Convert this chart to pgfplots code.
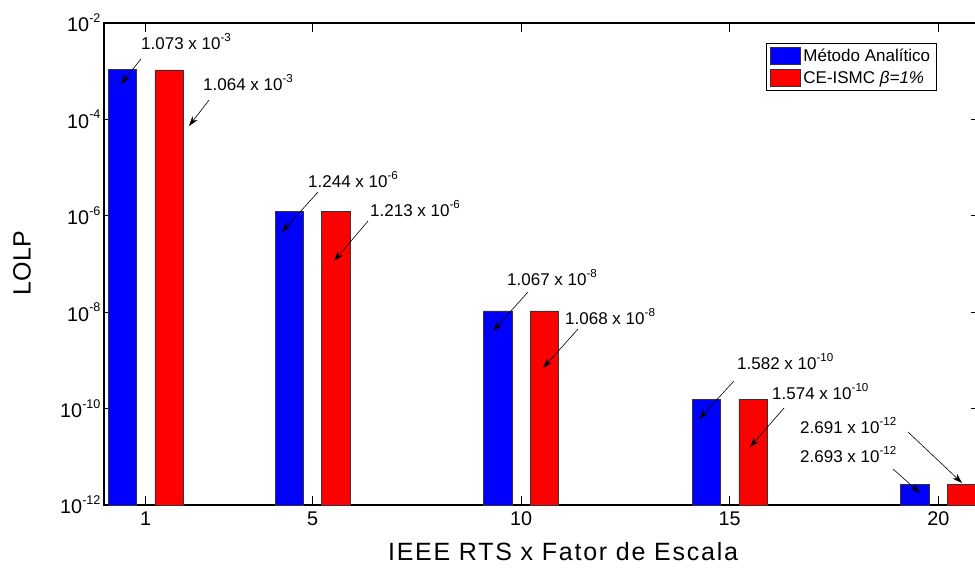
\documentclass[border=0pt]{standalone}
\usepackage{pgfplots}
\pgfplotsset{compat=1.18}
\usepackage{fontspec}
\setmainfont{Liberation Sans}
\usetikzlibrary{arrows.meta}
\newcommand{\asup}[1]{\raisebox{7.6pt}{\fontsize{11.6}{12}\selectfont #1}}
\newcommand{\tsup}[1]{\raisebox{9.3pt}{\fontsize{12.6}{13}\selectfont #1}}
\begin{document}
\begin{tikzpicture}
\begin{axis}[
  at={(104pt,69pt)}, anchor=south west,
  scale only axis, width=876pt, height=482pt,
  xmin=0, xmax=21,
  ymode=log, ymin=1e-12, ymax=1e-2,
  log origin y=infty,
  xtick={1,5,10,15,20},
  xticklabels={1,5,10,15,20},
  ytick={1e-12,1e-10,1e-8,1e-6,1e-4,1e-2},
  yticklabels={10\tsup{-12},10\tsup{-10},10\tsup{-8},10\tsup{-6},10\tsup{-4},10\tsup{-2}},
  yminorticks=false, xminorticks=false,
  tick align=inside,
  major tick length=9pt,
  axis line style={line width=1.2pt},
  every tick/.style={black, line width=0.8pt},
  ticklabel style={font=\fontsize{19.8}{21}\selectfont},
  xticklabel style={yshift=-3pt},
  xlabel={\addfontfeature{LetterSpace=7}IEEE RTS x Fator de Escala},
  ylabel={LOLP},
  label style={font=\fontsize{25}{27}\selectfont},
  xlabel style={at={(rel axis cs:0.524,-0.0975)}, anchor=center},
  ylabel style={at={(rel axis cs:-0.0936,0.502)}, anchor=center},
  legend style={at={(rel axis cs:0.7557,0.9585)}, anchor=north west,
    font=\fontsize{17}{19}\selectfont, draw=black, line width=0.8pt,
    inner xsep=3.5pt, inner ysep=3.5pt, row sep=5pt, cells={anchor=west},
    nodes={inner xsep=3pt, inner ysep=1pt}},
  legend image code/.code={\draw[#1, line width=0.5pt] (0pt,-8.5pt) rectangle (30pt,8.5pt);},
]
\addplot[ybar, bar width=0.68, bar shift=-0.56, fill=blue, draw=black!80, line width=0.6pt]
  coordinates {(1,1.073e-3)(5,1.244e-6)(10,1.067e-8)(15,1.582e-10)(20,2.693e-12)};
\addlegendentry{Método Analítico}
\addplot[ybar, bar width=0.68, bar shift=0.56, fill=red, draw=black!80, line width=0.6pt]
  coordinates {(1,1.064e-3)(5,1.213e-6)(10,1.068e-8)(15,1.574e-10)(20,2.691e-12)};
\addlegendentry{CE-ISMC \textit{β=1\%}}

\begin{scope}[every node/.style={font=\fontsize{17}{19}\selectfont, anchor=base west, inner sep=0pt},
  arr/.style={-{Stealth[length=10pt,width=6.5pt]}, line width=0.6pt}]
\node at (rel axis cs:0.0422,0.9454) {1.073 x 10\asup{-3}};
\draw[arr] (rel axis cs:0.0422,0.9253) -- (rel axis cs:0.0194,0.8734);
\node at (rel axis cs:0.1130,0.8603) {1.064 x 10\asup{-3}};
\draw[arr] (rel axis cs:0.1199,0.8402) -- (rel axis cs:0.0970,0.7863);
\node at (rel axis cs:0.2329,0.6591) {1.244 x 10\asup{-6}};
\draw[arr] (rel axis cs:0.2443,0.6494) -- (rel axis cs:0.2032,0.5664);
\node at (rel axis cs:0.3037,0.5989) {1.213 x 10\asup{-6}};
\draw[arr] (rel axis cs:0.3014,0.5892) -- (rel axis cs:0.2626,0.5062);
\node at (rel axis cs:0.4600,0.4558) {1.067 x 10\asup{-8}};
\draw[arr] (rel axis cs:0.4840,0.4419) -- (rel axis cs:0.4441,0.3610);
\node at (rel axis cs:0.5263,0.3749) {1.068 x 10\asup{-8}};
\draw[arr] (rel axis cs:0.5411,0.3651) -- (rel axis cs:0.5011,0.2842);
\node at (rel axis cs:0.7226,0.2815) {1.582 x 10\asup{-10}};
\draw[arr] (rel axis cs:0.7192,0.2573) -- (rel axis cs:0.6792,0.1784);
\node at (rel axis cs:0.7626,0.2193) {1.574 x 10\asup{-10}};
\draw[arr] (rel axis cs:0.7763,0.2012) -- (rel axis cs:0.7374,0.1203);
\node at (rel axis cs:0.7945,0.1487) {2.691 x 10\asup{-12}};
\draw[arr] (rel axis cs:0.9178,0.1515) -- (rel axis cs:0.9795,0.0456);
\node at (rel axis cs:0.7945,0.0886) {2.693 x 10\asup{-12}};
\draw[arr] (rel axis cs:0.9007,0.0747) -- (rel axis cs:0.9315,0.0249);
\end{scope}
\end{axis}
\pgfresetboundingbox
\path[use as bounding box] (0,0) rectangle (975pt,574pt);
\end{tikzpicture}
\end{document}
